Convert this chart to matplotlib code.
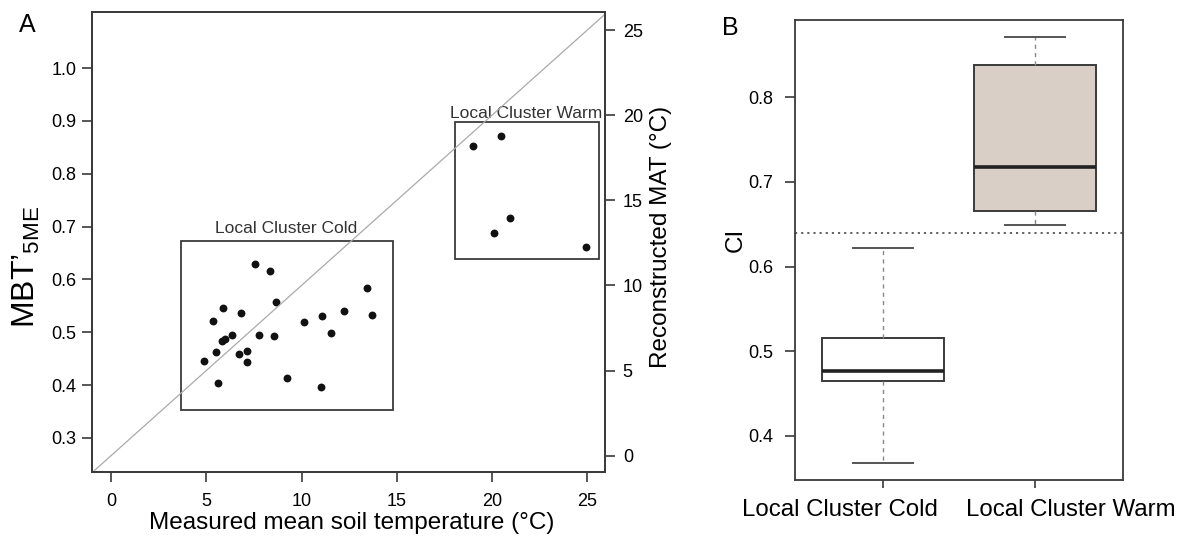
import numpy as np
import matplotlib
matplotlib.use("Agg")
import matplotlib.pyplot as plt
from matplotlib.patches import Rectangle
from matplotlib.transforms import ScaledTranslation

plt.rcParams["font.family"] = ["Liberation Sans", "DejaVu Sans"]
plt.rcParams["mathtext.fontset"] = "custom"
plt.rcParams["mathtext.rm"] = "Liberation Sans"

# ---- data: panel A ----
cold_temp = [4.88, 5.34, 5.50, 5.61, 5.90, 5.83, 5.96, 6.35, 6.73, 6.83, 7.16, 7.14, 7.56,
             7.75, 8.33, 8.53, 8.64, 9.22, 10.13, 11.03, 11.07, 11.57, 12.23, 13.43, 13.68]
cold_mbt = [0.445, 0.522, 0.462, 0.404, 0.546, 0.484, 0.487, 0.495, 0.459, 0.537, 0.464, 0.443, 0.630,
            0.495, 0.616, 0.492, 0.558, 0.413, 0.520, 0.396, 0.530, 0.499, 0.540, 0.584, 0.532]
warm_temp = [18.98, 20.49, 20.10, 20.93, 24.92]
warm_mbt = [0.853, 0.872, 0.687, 0.717, 0.662]

cold_box = (3.66, 0.353, 14.79, 0.673)   # x0, y0, x1, y1
warm_box = (18.06, 0.639, 25.62, 0.897)

# ---- data: panel B ----
groups = ["Local Cluster Cold", "Local Cluster Warm"]
whislo = [0.368, 0.649]
q1 = [0.4646, 0.666]
med = [0.4767, 0.7173]
q3 = [0.5154, 0.8375]
whishi = [0.622, 0.8714]
ci_threshold = 0.640

EDGE = "#3a3a3a"
FIG_W, FIG_H = 1178, 536
fig = plt.figure(figsize=(FIG_W / 100, FIG_H / 100), dpi=100)

def frac(l, t, r, b):
    return [l / FIG_W, 1 - b / FIG_H, (r - l) / FIG_W, (b - t) / FIG_H]

def style_spines(a):
    for sp in a.spines.values():
        sp.set_color(EDGE)
        sp.set_linewidth(1.3)

# ---- panel A ----
ax = fig.add_axes(frac(92, 12, 605, 472))
ax.set_xlim(-1.0, 25.93)
ax.set_ylim(0.2355, 1.106)
ax.scatter(cold_temp + warm_temp, cold_mbt + warm_mbt, s=32, color="#111111", zorder=3, linewidths=0)
for (x0, y0, x1, y1) in (cold_box, warm_box):
    ax.add_patch(Rectangle((x0, y0), x1 - x0, y1 - y0, fill=False, edgecolor=EDGE, lw=1.3))
ax.text(9.17, 0.687, "Local Cluster Cold", ha="center", va="baseline", fontsize=12.5, color="#333333")
ax.text(21.78, 0.9046, "Local Cluster Warm", ha="center", va="baseline", fontsize=12.5, color="#333333")
ax.set_xticks([0, 5, 10, 15, 20, 25])
yt = [0.3, 0.4, 0.5, 0.6, 0.7, 0.8, 0.9, 1.0]
ax.set_yticks(yt)
ax.set_yticklabels([f"{v:.1f}" for v in yt])
ax.tick_params(axis="x", labelsize=13, length=7, width=1.2, color=EDGE, pad=8)
ax.tick_params(axis="y", labelsize=13, length=7, width=1.2, color=EDGE, pad=4.3)
ax.set_xlabel("Measured mean soil temperature (°C)", fontsize=17.5, va="center")
ax.xaxis.set_label_coords(0.507, -0.11)
ax.set_ylabel("MBT’$_{\\mathregular{5ME}}$", fontsize=23, va="center")
ax.yaxis.set_label_coords(-0.128, 0.445)
style_spines(ax)

ax2 = ax.twinx()
ax2.set_ylim(-0.96, 26.06)
ax2.plot([-1.0, 25.93], [-1.0, 25.93], color="#aaaaaa", lw=0.9, zorder=1)
ax2.set_yticks([0, 5, 10, 15, 20, 25])
ax2.tick_params(labelsize=13, length=7, width=1.2, color=EDGE, pad=5.8)
ax2.set_ylabel("Reconstructed MAT (°C)", fontsize=17.5, va="center")
ax2.yaxis.set_label_coords(1.11, 0.511)
style_spines(ax2)
fig.text(27 / FIG_W, 1 - 25 / FIG_H, "A", fontsize=18, ha="center", va="center")

# ---- panel B ----
bx = fig.add_axes(frac(795, 20, 1123, 480))
stats = []
for i, g in enumerate(groups):
    stats.append(dict(label=g, whislo=whislo[i], q1=q1[i], med=med[i], q3=q3[i],
                      whishi=whishi[i], fliers=[]))
bp = bx.bxp(stats, positions=[1, 2], widths=0.8, patch_artist=True, showfliers=False,
            boxprops=dict(edgecolor=EDGE, linewidth=1.4),
            medianprops=dict(color="#222222", linewidth=2.6),
            whiskerprops=dict(color="#888888", linewidth=1.0, linestyle=(0, (3, 3))),
            capprops=dict(color="#555555", linewidth=1.4))
bp["boxes"][0].set_facecolor("white")
bp["boxes"][1].set_facecolor("#d9cfc6")
bx.axhline(ci_threshold, color="#555555", lw=1.3, linestyle=(0, (1.2, 2.2)))
bx.set_xlim(0.42, 2.58)
bx.set_ylim(0.348, 0.891)
bx.set_yticks([0.4, 0.5, 0.6, 0.7, 0.8])
bx.set_yticklabels(["0.4", "0.5", "0.6", "0.7", "0.8"])
bx.set_xticks([1, 2])
bx.set_xticklabels(groups)
bx.tick_params(axis="y", labelsize=13, length=7, width=1.2, color=EDGE, pad=8.6)
bx.tick_params(axis="x", labelsize=17.3, length=6, width=1.2, color=EDGE, pad=8)
for lab, dx in zip(bx.get_xticklabels(), [-0.43, 0.36]):
    lab.set_transform(lab.get_transform() + ScaledTranslation(dx, 0, fig.dpi_scale_trans))
bx.set_ylabel("CI", fontsize=17.5, va="center")
bx.yaxis.set_label_coords(-0.18, 0.522)
style_spines(bx)
fig.text(730 / FIG_W, 1 - 28 / FIG_H, "B", fontsize=18, ha="center", va="center")

fig.savefig("out.png", dpi=100)
